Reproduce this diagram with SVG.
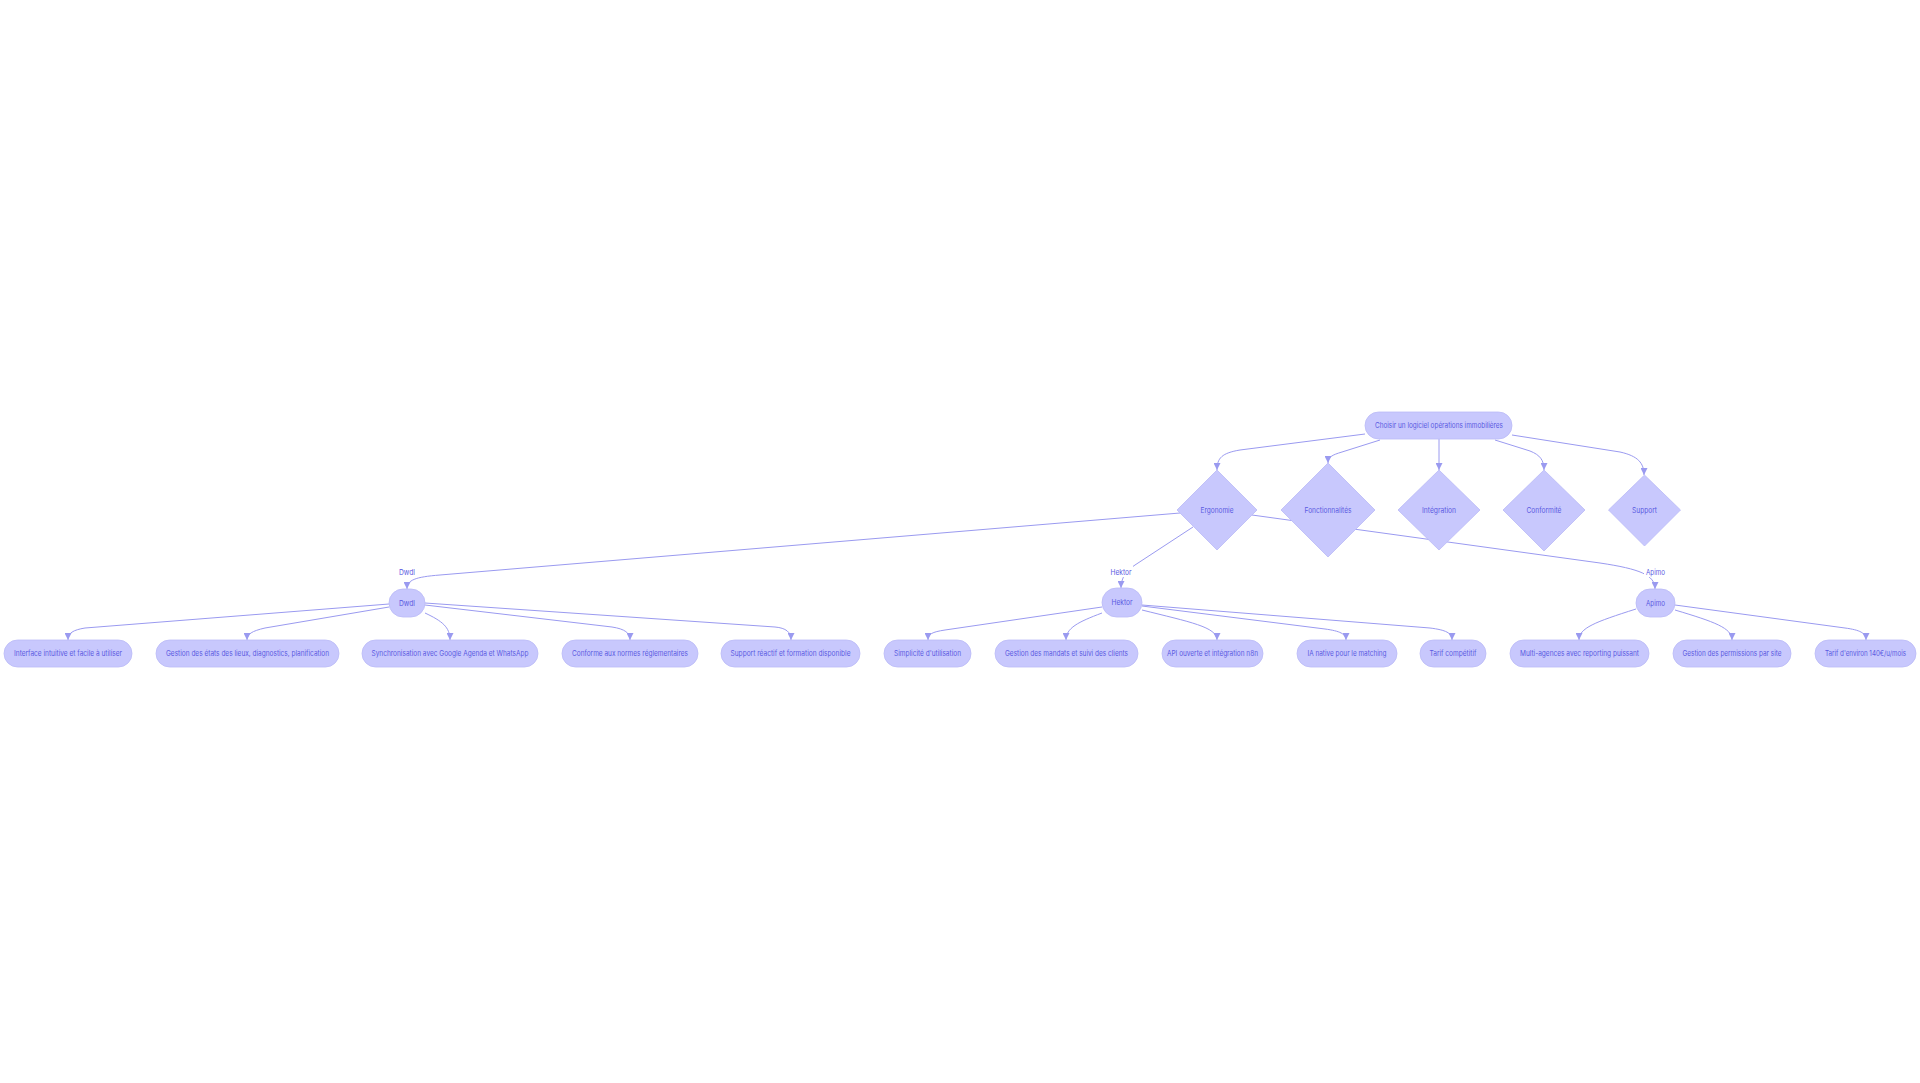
<svg xmlns="http://www.w3.org/2000/svg" width="1920" height="1083" viewBox="0 0 1920 1083">
<style>
.n{fill:#c8c8fd;stroke:#babaf6;stroke-width:0.8}
.t{font-family:Inter,"Liberation Sans",sans-serif;font-size:7.5px;fill:#5a5ae2;text-anchor:middle}
.e{fill:none;stroke:#9a9af0;stroke-width:1}
.lb{fill:#ffffff}
</style>
<defs>
<marker id="ah" viewBox="0 0 10 10" refX="10" refY="5" markerWidth="7" markerHeight="7" markerUnits="userSpaceOnUse" orient="auto">
<path d="M0,0 L10,5 L0,10 z" fill="#9a9af0"/>
</marker>
</defs>
<rect width="1920" height="1083" fill="#ffffff"/>
<g id="connectors">
<path class="e" marker-end="url(#ah)" d="M1365,434 L1240,450 C1222,453 1217,458 1217,470"/>
<path class="e" marker-end="url(#ah)" d="M1380,440 L1342,452 C1332,455 1328,457 1328,463"/>
<path class="e" marker-end="url(#ah)" d="M1439,439 L1439,470"/>
<path class="e" marker-end="url(#ah)" d="M1495,440 L1530,451 C1540,455 1544,460 1544,470"/>
<path class="e" marker-end="url(#ah)" d="M1512,435 L1620,452 C1638,456 1644,463 1644,475"/>
<path class="e" marker-end="url(#ah)" d="M1180,513 L440,575 C415,577 407,580 407,589"/>
<path class="e" marker-end="url(#ah)" d="M1193,527 L1135,565 C1126,571 1121,578 1121,588"/>
<path class="e" marker-end="url(#ah)" d="M1252,515 L1600,563 C1640,569 1655,575 1655,589"/>
<path class="e" marker-end="url(#ah)" d="M389,604 L85,628 C73,630 68,633 68,640"/>
<path class="e" marker-end="url(#ah)" d="M389,607 L265,628 C252,631 247,634 247,640"/>
<path class="e" marker-end="url(#ah)" d="M425,613 C442,621 450,627 450,640"/>
<path class="e" marker-end="url(#ah)" d="M425,605 L612,627 C625,629 630,633 630,640"/>
<path class="e" marker-end="url(#ah)" d="M425,603 L775,627 C786,628 791,632 791,640"/>
<path class="e" marker-end="url(#ah)" d="M1102,607 L945,630 C932,632 928,634 928,640"/>
<path class="e" marker-end="url(#ah)" d="M1102,613 C1078,622 1066,628 1066,640"/>
<path class="e" marker-end="url(#ah)" d="M1142,610 C1190,622 1217,627 1217,640"/>
<path class="e" marker-end="url(#ah)" d="M1142,606 L1325,629 C1340,631 1346,634 1346,640"/>
<path class="e" marker-end="url(#ah)" d="M1142,605 L1430,628 C1446,630 1452,633 1452,640"/>
<path class="e" marker-end="url(#ah)" d="M1636,609 C1595,622 1579,628 1579,640"/>
<path class="e" marker-end="url(#ah)" d="M1675,610 C1715,622 1732,628 1732,640"/>
<path class="e" marker-end="url(#ah)" d="M1675,605 L1845,628 C1860,630 1866,633 1866,640"/>
<g id="edge-labels">
<rect class="lb" x="397" y="566" width="20" height="11"/>
<text class="t" x="407" y="574.6" textLength="16" lengthAdjust="spacingAndGlyphs">Dwdl</text>
<rect class="lb" x="1109" y="566" width="24" height="11"/>
<text class="t" x="1121" y="574.6" textLength="21" lengthAdjust="spacingAndGlyphs">Hektor</text>
<rect class="lb" x="1644" y="566" width="22" height="11"/>
<text class="t" x="1655.5" y="574.6" textLength="19" lengthAdjust="spacingAndGlyphs">Apimo</text>
</g>
</g>
<g id="root">
<rect class="n" x="1365" y="412" width="147" height="27" rx="13.5"/>
<text class="t" x="1439" y="428.1" textLength="128" lengthAdjust="spacingAndGlyphs">Choisir un logiciel opérations immobilières</text>
</g>
<g id="ergonomie">
<polygon class="n" points="1217,470 1257,510 1217,550 1177,510"/>
<text class="t" x="1217" y="512.6" textLength="33" lengthAdjust="spacingAndGlyphs">Ergonomie</text>
</g>
<g id="fonctionnalites">
<polygon class="n" points="1328,463 1375,510 1328,557 1281,510"/>
<text class="t" x="1328" y="512.6" textLength="47" lengthAdjust="spacingAndGlyphs">Fonctionnalités</text>
</g>
<g id="integration">
<polygon class="n" points="1439,470 1480,510 1439,550 1398,510"/>
<text class="t" x="1439" y="512.6" textLength="34" lengthAdjust="spacingAndGlyphs">Intégration</text>
</g>
<g id="conformite">
<polygon class="n" points="1544,470 1585,510 1544,551 1503,510"/>
<text class="t" x="1544" y="512.6" textLength="35" lengthAdjust="spacingAndGlyphs">Conformité</text>
</g>
<g id="support">
<polygon class="n" points="1644.5,475 1680.5,510 1644.5,546 1608.5,510"/>
<text class="t" x="1644.5" y="512.6" textLength="25" lengthAdjust="spacingAndGlyphs">Support</text>
</g>
<g id="dwdl">
<rect class="n" x="389" y="589" width="36" height="28" rx="14"/>
<text class="t" x="407" y="605.6" textLength="16" lengthAdjust="spacingAndGlyphs">Dwdl</text>
</g>
<g id="hektor">
<rect class="n" x="1102" y="588" width="40" height="29" rx="14.5"/>
<text class="t" x="1122" y="605.1" textLength="21" lengthAdjust="spacingAndGlyphs">Hektor</text>
</g>
<g id="apimo">
<rect class="n" x="1636" y="589" width="39" height="28" rx="14"/>
<text class="t" x="1655.5" y="605.6" textLength="19" lengthAdjust="spacingAndGlyphs">Apimo</text>
</g>
<g id="leaf1">
<rect class="n" x="4" y="640" width="128" height="27" rx="13.5"/>
<text class="t" x="68" y="656.1" textLength="108" lengthAdjust="spacingAndGlyphs">Interface intuitive et facile à utiliser</text>
</g>
<g id="leaf2">
<rect class="n" x="156" y="640" width="183" height="27" rx="13.5"/>
<text class="t" x="247.5" y="656.1" textLength="163" lengthAdjust="spacingAndGlyphs">Gestion des états des lieux, diagnostics, planification</text>
</g>
<g id="leaf3">
<rect class="n" x="362" y="640" width="176" height="27" rx="13.5"/>
<text class="t" x="450" y="656.1" textLength="157" lengthAdjust="spacingAndGlyphs">Synchronisation avec Google Agenda et WhatsApp</text>
</g>
<g id="leaf4">
<rect class="n" x="562" y="640" width="136" height="27" rx="13.5"/>
<text class="t" x="630" y="656.1" textLength="116" lengthAdjust="spacingAndGlyphs">Conforme aux normes réglementaires</text>
</g>
<g id="leaf5">
<rect class="n" x="721" y="640" width="139" height="27" rx="13.5"/>
<text class="t" x="790.5" y="656.1" textLength="120" lengthAdjust="spacingAndGlyphs">Support réactif et formation disponible</text>
</g>
<g id="leaf6">
<rect class="n" x="884" y="640" width="87" height="27" rx="13.5"/>
<text class="t" x="927.5" y="656.1" textLength="67" lengthAdjust="spacingAndGlyphs">Simplicité d'utilisation</text>
</g>
<g id="leaf7">
<rect class="n" x="995" y="640" width="143" height="27" rx="13.5"/>
<text class="t" x="1066.5" y="656.1" textLength="123" lengthAdjust="spacingAndGlyphs">Gestion des mandats et suivi des clients</text>
</g>
<g id="leaf8">
<rect class="n" x="1162" y="640" width="101" height="27" rx="13.5"/>
<text class="t" x="1212.5" y="656.1" textLength="91" lengthAdjust="spacingAndGlyphs">API ouverte et intégration n8n</text>
</g>
<g id="leaf9">
<rect class="n" x="1297" y="640" width="100" height="27" rx="13.5"/>
<text class="t" x="1347" y="656.1" textLength="79" lengthAdjust="spacingAndGlyphs">IA native pour le matching</text>
</g>
<g id="leaf10">
<rect class="n" x="1420" y="640" width="66" height="27" rx="13.5"/>
<text class="t" x="1453" y="656.1" textLength="47" lengthAdjust="spacingAndGlyphs">Tarif compétitif</text>
</g>
<g id="leaf11">
<rect class="n" x="1510" y="640" width="139" height="27" rx="13.5"/>
<text class="t" x="1579.5" y="656.1" textLength="119" lengthAdjust="spacingAndGlyphs">Multi-agences avec reporting puissant</text>
</g>
<g id="leaf12">
<rect class="n" x="1673" y="640" width="118" height="27" rx="13.5"/>
<text class="t" x="1732" y="656.1" textLength="99" lengthAdjust="spacingAndGlyphs">Gestion des permissions par site</text>
</g>
<g id="leaf13">
<rect class="n" x="1815" y="640" width="101" height="27" rx="13.5"/>
<text class="t" x="1865.5" y="656.1" textLength="81" lengthAdjust="spacingAndGlyphs">Tarif d'environ 140€/u/mois</text>
</g>
</svg>
